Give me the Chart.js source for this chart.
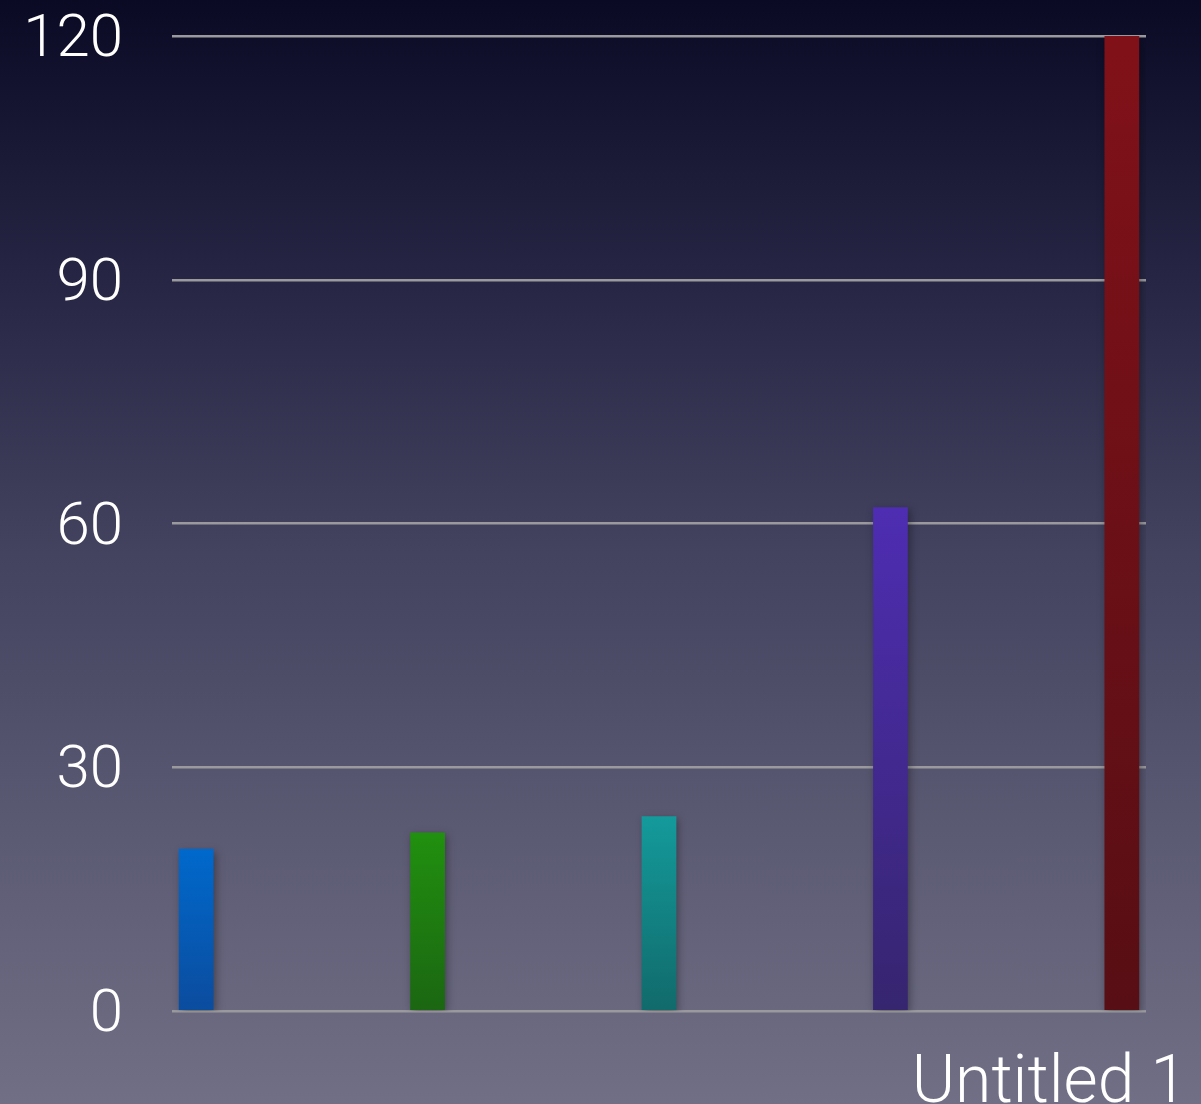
<!DOCTYPE html>
<html lang="en">
<head>
    <meta charset="UTF-8">
    <title>Untitled 1</title>
    <script src="https://cdn.jsdelivr.net/npm/chart.js"></script>
    <style>
        html, body {
            margin: 0;
            padding: 0;
        }
        body {
            width: 1201px;
            height: 1104px;
            overflow: hidden;
            background: linear-gradient(to bottom, #0a0a25 0%, #262644 25%, #43425f 50%, #5b5a73 75%, #706f85 100%);
        }
        .container {
            position: relative;
            width: 1201px;
            height: 1104px;
        }
    </style>
</head>
<body>
    <div class="container">
        <canvas id="myChart"></canvas>
    </div>

    <script>
        // data
        const categories = ['Untitled 1'];
        const seriesNames = ['Series 1', 'Series 2', 'Series 3', 'Series 4', 'Series 5'];
        const seriesValues = [20, 22, 24, 62, 120];
        const yTicks = [0, 30, 60, 90, 120];

        // bar colours, top -> bottom of each bar
        const topColors = ['#0069cc', '#21900f', '#149a9b', '#4e2db2', '#811119'];
        const bottomColors = ['#0b4c9e', '#1b6612', '#116a6b', '#36256f', '#570e14'];

        function barGradient(i) {
            return (c) => {
                const chart = c.chart;
                if (!chart.chartArea) return topColors[i];
                const y = chart.scales.y;
                const yTop = y.getPixelForValue(c.raw);
                const yBase = y.getPixelForValue(0);
                const g = chart.ctx.createLinearGradient(0, yTop, 0, yBase);
                g.addColorStop(0, topColors[i]);
                g.addColorStop(1, bottomColors[i]);
                return g;
            };
        }

        // soft drop shadow under the bars
        const barShadow = {
            id: 'barShadow',
            beforeDatasetsDraw(chart) {
                const ctx = chart.ctx;
                ctx.save();
                ctx.shadowColor = 'rgba(0, 0, 0, 0.35)';
                ctx.shadowBlur = 8;
                ctx.shadowOffsetX = 2;
                ctx.shadowOffsetY = 3;
            },
            afterDatasetsDraw(chart) {
                chart.ctx.restore();
            }
        };

        const tickFont = { family: 'Roboto, Lato, "Liberation Sans", sans-serif', size: 60, weight: '300' };

        const ctx = document.getElementById('myChart').getContext('2d');

        const myChart = new Chart(ctx, {
            type: 'bar',
            data: {
                labels: categories,
                datasets: seriesNames.map((name, i) => ({
                    label: name,
                    data: [seriesValues[i]],
                    backgroundColor: barGradient(i),
                    borderWidth: 0,
                    categoryPercentage: 1.188,
                    barPercentage: 0.15
                }))
            },
            options: {
                responsive: true,
                maintainAspectRatio: false,
                animation: false,
                layout: { padding: { left: 0, right: 14, top: 0, bottom: 0 } },
                plugins: {
                    legend: { display: false },
                    tooltip: { enabled: false },
                    title: {
                        display: true,
                        text: categories[0],
                        position: 'bottom',
                        align: 'end',
                        color: '#ffffff',
                        font: { family: tickFont.family, size: 66, weight: '300', lineHeight: 0.8 },
                        padding: { top: 48, bottom: -8 }
                    }
                },
                scales: {
                    x: {
                        display: false
                    },
                    y: {
                        min: 0,
                        max: 120,
                        afterBuildTicks: (s) => { s.ticks = yTicks.map(v => ({ value: v })); },
                        afterFit: (s) => {
                            s.width = 172;
                            s.paddingTop = 36;
                            s.paddingBottom = 36;
                        },
                        border: { display: false },
                        grid: {
                            color: '#9a9a9e',
                            lineWidth: 2.5,
                            drawTicks: false
                        },
                        ticks: {
                            color: '#ffffff',
                            font: tickFont,
                            padding: 49,
                            labelOffset: 5
                        }
                    },
                    y2: {
                        position: 'right',
                        display: true,
                        afterFit: (s) => { s.width = 41; },
                        border: { display: false },
                        grid: { display: false },
                        ticks: { display: false }
                    }
                }
            },
            plugins: [barShadow]
        });
    </script>
</body>
</html>
